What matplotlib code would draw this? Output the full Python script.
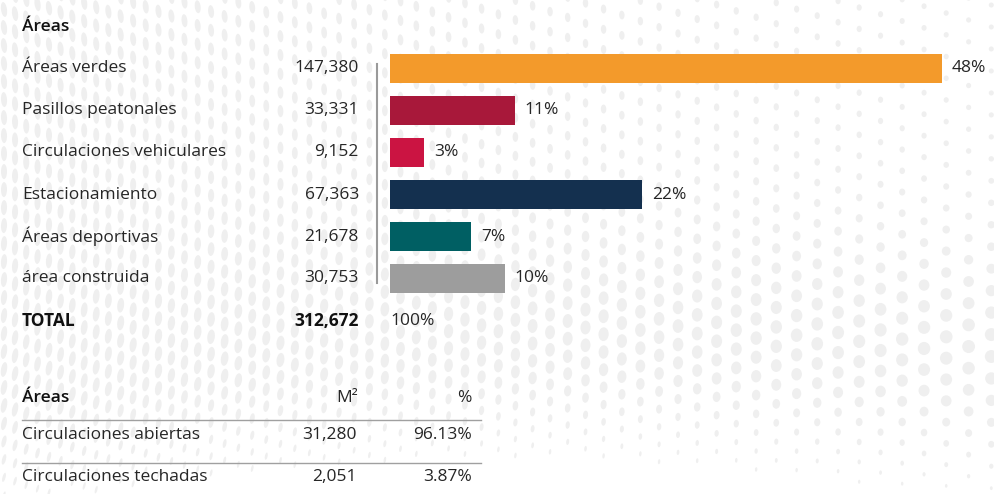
import matplotlib
matplotlib.use("Agg")
import numpy as np
import matplotlib.pyplot as plt
from matplotlib.collections import EllipseCollection
from matplotlib.transforms import blended_transform_factory

# ---- data ----
categories = ["Áreas verdes", "Pasillos peatonales", "Circulaciones vehiculares",
              "Estacionamiento", "Áreas deportivas", "área construida"]
values = [147380, 33331, 9152, 67363, 21678, 30753]
value_labels = ["147,380", "33,331", "9,152", "67,363", "21,678", "30,753"]
pct_labels = ["48%", "11%", "3%", "22%", "7%", "10%"]
bar_colors = ["#F39A2B", "#A8183A", "#CB1442", "#14304F", "#005F63", "#9D9D9D"]
total_label = "TOTAL"
total_value = "312,672"
total_pct = "100%"
title = "Áreas"

table_header = ["Áreas", "M²", "%"]
table_rows = ["Circulaciones abiertas", "Circulaciones techadas"]
table_m2 = ["31,280", "2,051"]
table_pct = ["96.13%", "3.87%"]

# ---- figure ----
W, H = 995, 494
fig = plt.figure(figsize=(W / 100, H / 100), dpi=100)
fig.patch.set_facecolor("white")
FONT = ["Open Sans", "DejaVu Sans"]
TXT = "#262626"
FS = 12.5


def fx(px):
    return px / W


def fy(py):
    return 1 - py / H


# ---- decorative halftone background (not data) ----
bg = fig.add_axes([0, 0, 1, 1], zorder=-10)
bg.set_xlim(0, W)
bg.set_ylim(H, 0)
bg.axis("off")
pts, ws, hs, angs = [], [], [], []
x = 4.0
while x < W + 10:
    t = x / W
    step = 11 + 12 * t
    ry = 18.0 + 4 * t
    y = -10 + (x * 0.37) % ry
    while y < H + 10:
        s = y / H
        sag = 45 * np.sin(np.pi * t) * s * s
        yy = y - sag
        size_r = 5 + 8 * np.exp(-((s - 0.7) / 0.22) ** 2)
        w = (1 - t) * 6 + t * size_r
        h = (1 - t) * 15 + t * size_r
        if s > 0.82:
            f = min(1.0, (s - 0.82) / 0.18)
            w *= (1 - 0.6 * f)
            h *= (1 - 0.45 * f)
        ang = 25 * (1 - t) * (s - 0.35)
        pts.append((x, yy))
        ws.append(w)
        hs.append(h)
        angs.append(ang)
        y += ry
    x += step
pts = np.array(pts)
ec = EllipseCollection(ws, hs, angs, units="xy", offsets=pts,
                       offset_transform=bg.transData, facecolors="#EFEFEF",
                       edgecolors="none")
bg.add_collection(ec)

# ---- bar axes: x from 390px to 942px ----
top, bottom = 47.5, 47.5 + 42 * 6
ax = fig.add_axes([fx(390), fy(bottom), fx(942) - fx(390), (bottom - top) / H])
ax.set_facecolor("none")
ypos = list(range(len(categories)))
ax.barh(ypos, values, height=0.69, color=bar_colors, align="center")
ax.set_xlim(0, max(values))
ax.set_ylim(len(categories) - 0.5, -0.5)
ax.axis("off")

tr = blended_transform_factory(fig.transFigure, ax.transData)
for i, (c, vl, pl, v) in enumerate(zip(categories, value_labels, pct_labels, values)):
    ax.text(fx(22), i, c, transform=tr, ha="left", va="center",
            fontsize=FS, color=TXT, family=FONT)
    ax.text(fx(359), i, vl, transform=tr, ha="right", va="center",
            fontsize=FS, color=TXT, family=FONT)
    ax.annotate(pl, xy=(v, i), xytext=(7, 0), textcoords="offset points",
                ha="left", va="center", fontsize=FS, color=TXT, family=FONT,
                annotation_clip=False)

# vertical separator
ax.plot([fx(377), fx(377)], [-0.1, 5.1], transform=tr, color="#9a9a9a",
        lw=1.5, clip_on=False)

# total row
ty = len(categories)
ax.text(fx(22), ty, total_label, transform=tr, ha="left", va="center",
        fontsize=FS, color="#111111", family=FONT, weight="bold")
ax.text(fx(359), ty, total_value, transform=tr, ha="right", va="center",
        fontsize=FS, color="#111111", family=FONT, weight="bold")
ax.text(fx(390), ty, total_pct, transform=tr, ha="left", va="center",
        fontsize=FS, color=TXT, family=FONT)

# title
fig.text(fx(22), fy(27), title, ha="left", va="center", fontsize=FS,
         color="#111111", family=FONT, weight="semibold")

# ---- lower table ----
row_y = [398, 435, 477]
fig.text(fx(22), fy(row_y[0]), table_header[0], ha="left", va="center",
         fontsize=FS, color="#111111", family=FONT, weight="semibold")
fig.text(fx(358), fy(row_y[0]), table_header[1], ha="right", va="center",
         fontsize=FS, color=TXT, family=FONT)
fig.text(fx(472), fy(row_y[0]), table_header[2], ha="right", va="center",
         fontsize=FS, color=TXT, family=FONT)
for k, (r, m, p) in enumerate(zip(table_rows, table_m2, table_pct)):
    yy = fy(row_y[k + 1])
    fig.text(fx(22), yy, r, ha="left", va="center", fontsize=FS, color=TXT, family=FONT)
    fig.text(fx(357), yy, m, ha="right", va="center", fontsize=FS, color=TXT, family=FONT)
    fig.text(fx(472), yy, p, ha="right", va="center", fontsize=FS, color=TXT, family=FONT)
for ly in [420, 463]:
    fig.add_artist(plt.Line2D([fx(22), fx(481)], [fy(ly), fy(ly)],
                              transform=fig.transFigure, color="#a0a0a0", lw=1))

fig.savefig("out.png", dpi=100, facecolor="white")
